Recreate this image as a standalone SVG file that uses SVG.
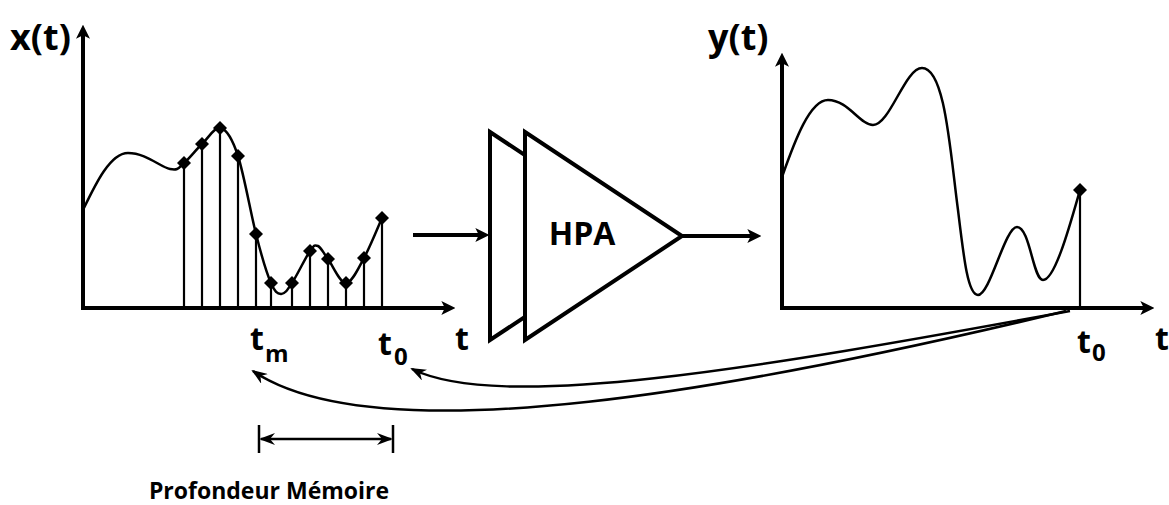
<svg xmlns="http://www.w3.org/2000/svg" width="1169" height="505" viewBox="0 0 1169 505">
<style>
text{font-family:"Open Sans","Liberation Sans",sans-serif;font-weight:bold;fill:#000}
.axis{stroke:#000;stroke-width:4;fill:none}
.stem{stroke:#000;stroke-width:2.2;fill:none}
.sig{stroke:#000;stroke-width:2.5;fill:none}
.dot{fill:#000}
.conn{stroke:#000;stroke-width:4;fill:none}
.curve{stroke:#000;stroke-width:2.5;fill:none}
</style>
<defs>
<marker id="axArrow" viewBox="0 0 12 12" refX="4" refY="6" markerWidth="14" markerHeight="14" markerUnits="userSpaceOnUse" orient="auto">
<path d="M0,0 L12,6 L0,12 L3,6 z" fill="#000"/>
</marker>
<marker id="thin" viewBox="0 0 16 12" refX="14" refY="6" markerWidth="16" markerHeight="12" markerUnits="userSpaceOnUse" orient="auto-start-reverse">
<path d="M0,0 L16,6 L0,12 L5,6 z" fill="#000"/>
</marker>
<path id="dm" d="M0,-7 L7,0 L0,7 L-7,0 z"/>
</defs>

<g id="input-plot">
<line class="axis" x1="83" y1="309" x2="83" y2="34" marker-end="url(#axArrow)"/>
<line class="axis" x1="81" y1="308" x2="446" y2="308" marker-end="url(#axArrow)"/>
<path class="sig" d="M83,210 C95,185 110,153 128,153 C146,153 160.7,167.3 170,169 C179.3,170.7 178.7,167.2 184,163 C189.3,158.8 195.8,149.8 202,144 C208.2,138.2 215,126 221,128 C227,130 232.2,138.3 238,156 C243.8,173.7 250.7,213 256,234 C261.3,255 266.5,273 271,283 C275,292 277.3,293.8 281,294 C284.7,294.2 287.2,290.2 292,283 C296.8,275.8 305.7,257.2 310,251 C314.3,244.8 315,244.7 318,246 C321,247.3 323.3,252.8 328,259 C332.7,265.2 340,283.2 346,283 C352,282.8 358,268.8 364,258 C370,247.2 379,224.7 382,218"/>
<g class="stem">
<line x1="184" y1="308" x2="184" y2="163"/>
<line x1="202" y1="308" x2="202" y2="144"/>
<line x1="220" y1="308" x2="220" y2="128"/>
<line x1="238" y1="308" x2="238" y2="156"/>
<line x1="256" y1="308" x2="256" y2="234"/>
<line x1="271" y1="308" x2="271" y2="283"/>
<line x1="292" y1="308" x2="292" y2="283"/>
<line x1="310" y1="308" x2="310" y2="251"/>
<line x1="328" y1="308" x2="328" y2="259"/>
<line x1="346" y1="308" x2="346" y2="283"/>
<line x1="364" y1="308" x2="364" y2="258"/>
<line x1="382" y1="308" x2="382" y2="218"/>
</g>
<g class="dot">
<use href="#dm" x="184" y="163"/>
<use href="#dm" x="202" y="144"/>
<use href="#dm" x="220" y="128"/>
<use href="#dm" x="238" y="156"/>
<use href="#dm" x="256" y="234"/>
<use href="#dm" x="271" y="283"/>
<use href="#dm" x="292" y="283"/>
<use href="#dm" x="310" y="251"/>
<use href="#dm" x="328" y="259"/>
<use href="#dm" x="346" y="283"/>
<use href="#dm" x="364" y="258"/>
<use href="#dm" x="382" y="218"/>
</g>
<text x="10" y="50" font-size="36">x(t)</text>
<text x="455" y="350" font-size="32">t</text>
<text x="250" y="350" font-size="32">t</text>
<text x="265" y="362" font-size="24">m</text>
<text x="378" y="355" font-size="32">t</text>
<text x="394" y="365" font-size="24">0</text>
</g>

<g id="hpa">
<polygon points="490,132 647,236 490,340" fill="#fff" stroke="#000" stroke-width="4" stroke-linejoin="miter"/>
<polygon points="525,132 682,236 525,340" fill="#fff" stroke="#000" stroke-width="4" stroke-linejoin="miter"/>
<text x="582" y="245" font-size="32" text-anchor="middle">HPA</text>
</g>

<g id="output-plot">
<line class="axis" x1="782" y1="310" x2="782" y2="62" marker-end="url(#axArrow)"/>
<line class="axis" x1="780" y1="308" x2="1145" y2="308" marker-end="url(#axArrow)"/>
<path class="sig" d="M782,177 C795,140 810,100 828,100 C848,100 860,125 873,125 C890,125 905,68 922,68 C945,68 950,150 958,210 C964,260 968,295 978,295 C990,295 1005,227 1017,227 C1030,227 1033,280 1043,280 C1055,280 1070,225 1080,190"/>
<line class="stem" x1="1080" y1="308" x2="1080" y2="190"/>
<use href="#dm" x="1080" y="190" class="dot"/>
<text x="708" y="50" font-size="36">y(t)</text>
<text x="1077" y="353" font-size="32">t</text>
<text x="1092" y="361" font-size="24">0</text>
<text x="1155" y="350" font-size="32">t</text>
</g>

<g id="memory-depth">
<line x1="259" y1="425" x2="259" y2="453" stroke="#000" stroke-width="2.5"/>
<line x1="393" y1="425" x2="393" y2="453" stroke="#000" stroke-width="2.5"/>
<line x1="261" y1="439" x2="391" y2="439" stroke="#000" stroke-width="2.5" marker-start="url(#thin)" marker-end="url(#thin)"/>
<text x="269" y="499" font-size="23" text-anchor="middle">Profondeur Mémoire</text>
</g>

<g id="connectors">
<line class="conn" x1="413" y1="235" x2="480" y2="235" marker-end="url(#axArrow)"/>
<line class="conn" x1="682" y1="236" x2="752" y2="236" marker-end="url(#axArrow)"/>
<path class="curve" d="M1070,311 C750,370 500,412 412,369" marker-end="url(#thin)"/>
<path class="curve" d="M1066,311 C750,387 380,457 253,371" marker-end="url(#thin)"/>
</g>
</svg>
